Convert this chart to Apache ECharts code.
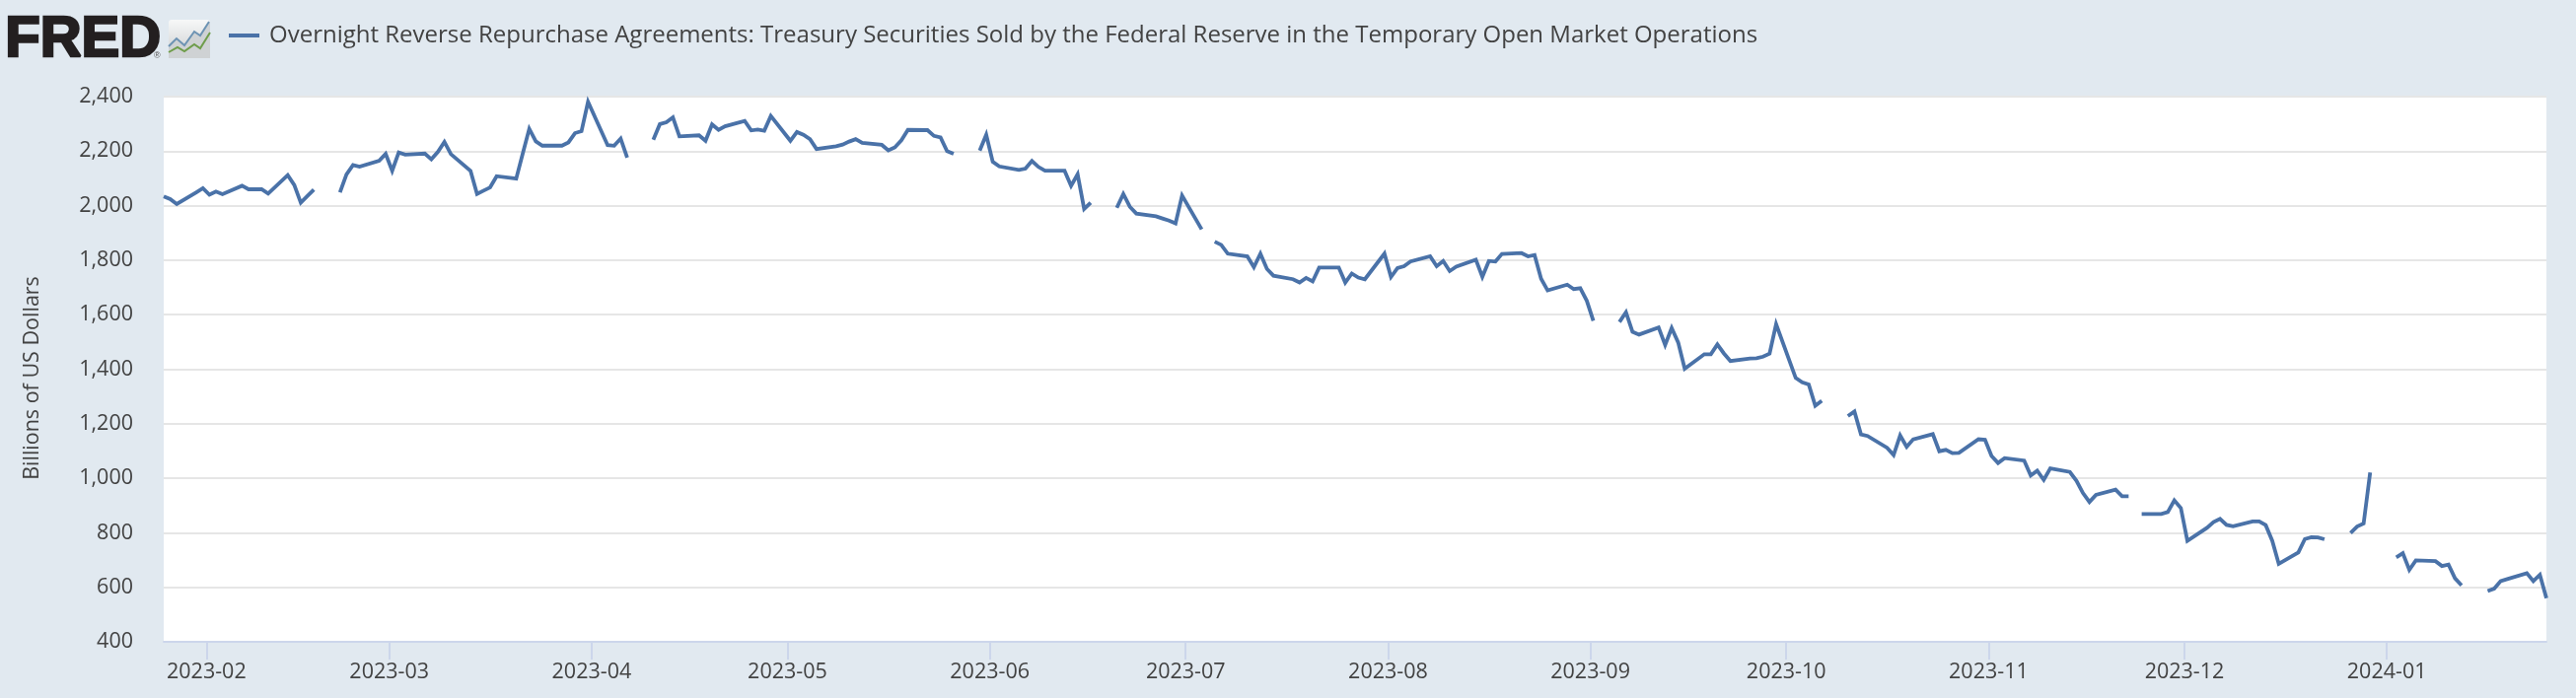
<!DOCTYPE html>
<html>
<head>
<meta charset="utf-8">
<script src="https://cdn.jsdelivr.net/npm/echarts@6/dist/echarts.min.js"></script>
<style>html,body{margin:0;padding:0;background:#e1e9f0}#c{width:2612px;height:708px}</style>
</head>
<body>
<div id="c"></div>
<script>
const seriesName = 'Overnight Reverse Repurchase Agreements: Treasury Securities Sold by the Federal Reserve in the Temporary Open Market Operations';
const yAxisName = 'Billions of US Dollars';
const firstDay = '2023-01-25';
const lastDay = '2024-01-25';
const tickMonths = ['2023-02','2023-03','2023-04','2023-05','2023-06','2023-07','2023-08','2023-09','2023-10','2023-11','2023-12','2024-01'];

// Every weekday, month by month; null = market holiday (no operation)
const jan23 = [2034,2024,2006,2049,2064];
const feb23 = [2040,2052,2042,2073,2060,2060,2060,2044,2112,2076,2011,2035,2059,null,2049,2115,2149,2143,2165,2190];
const mar23 = [2128,2195,2187,2191,2170,2197,2234,2189,2128,2043,2055,2067,2108,2099,2191,2282,2236,2220,2220,2232,2266,2273,2381];
const apr23 = [2222,2220,2246,2176,null,2242,2299,2306,2324,2254,2258,2238,2298,2278,2291,2311,2276,2279,2275,2329];
const may23 = [2238,2270,2260,2244,2208,2218,2224,2235,2244,2230,2223,2203,2214,2240,2278,2277,2256,2250,2200,2190,null,2202,2260];
const jun23 = [2161,2144,2131,2136,2164,2142,2128,2128,2073,2115,1988,2011,null,1992,2043,1996,1971,1961,1953,1945,1935,2037];
const jul23 = [1913,null,1868,1856,1824,1814,1774,1824,1768,1743,1730,1718,1735,1722,1773,1773,1718,1751,1736,1730,1824];
const aug23 = [1738,1771,1778,1795,1814,1778,1797,1760,1776,1802,1739,1797,1795,1823,1826,1814,1819,1732,1689,1710,1694,1697,1651];
const sep23 = [1578,null,1573,1609,1537,1527,1553,1489,1551,1498,1402,1455,1455,1491,1458,1430,1439,1440,1446,1457,1565];
const oct23 = [1368,1352,1344,1266,1284,null,1228,1245,1161,1155,1112,1085,1157,1115,1143,1162,1099,1104,1092,1093,1143,1141];
const nov23 = [1082,1056,1074,1065,1010,1028,994,1036,1023,991,946,913,939,958,934,934,null,869,869,876,919,891];
const dec23 = [770,818,839,851,829,824,842,842,828,771,686,728,777,784,783,776,null,799,823,834,1021];
const jan24 = [null,710,725,664,699,696,678,683,633,607,null,586,595,623,630,652,623,646,560];

const values = [].concat(jan23,feb23,mar23,apr23,may23,jun23,jul23,aug23,sep23,oct23,nov23,dec23,jan24);

const DAY = 86400000;
const weekdays = [];
for (let t = Date.parse(firstDay); t <= Date.parse(lastDay); t += DAY) {
  const w = new Date(t).getUTCDay();
  if (w !== 0 && w !== 6) weekdays.push(t);
}
const points = weekdays.map((t, i) => [t, values[i] === undefined ? null : values[i]]);
// The reference draws its month ticks about half a day before the 1st
const TICK_SHIFT = DAY * 0.45;
const tickValues = tickMonths.map(m => Date.parse(m + '-01') - TICK_SHIFT);

const FONT = '"Open Sans", "Noto Sans", sans-serif';
const TEXT = '#424242';
const chart = echarts.init(document.getElementById('c'), null, {renderer: 'canvas', width: 2612, height: 708});
chart.setOption({
  animation: false,
  backgroundColor: '#e1e9f0',
  grid: {left: 166, right: 30, top: 98, bottom: 57, show: true, backgroundColor: '#ffffff', borderWidth: 0},
  legend: {
    show: true, left: 232, top: 24, padding: 0, icon: 'rect', itemWidth: 31, itemHeight: 4,
    textStyle: {fontFamily: FONT, fontSize: 24, color: TEXT, padding: [0, 0, 0, 5]},
    data: [seriesName]
  },
  xAxis: {
    type: 'value',
    min: Date.parse(firstDay),
    max: Date.parse(lastDay),
    axisLine: {show: true, lineStyle: {color: '#ccd6eb', width: 2}},
    axisTick: {show: true, length: 18, customValues: tickValues, lineStyle: {color: '#ccd6eb', width: 2}},
    splitLine: {show: false},
    minorTick: {show: false},
    axisLabel: {
      customValues: tickValues,
      margin: 20,
      hideOverlap: false,
      fontFamily: FONT, fontSize: 21.5, color: TEXT,
      formatter: v => new Date(v + TICK_SHIFT).toISOString().slice(0, 7)
    }
  },
  yAxis: {
    type: 'value',
    min: 400, max: 2400, interval: 200,
    name: yAxisName,
    nameLocation: 'middle',
    nameGap: 122,
    nameTextStyle: {fontFamily: FONT, fontSize: 21.5, color: TEXT, padding: [0, 18, 0, 0]},
    axisLine: {show: false},
    axisTick: {show: false},
    splitLine: {show: true, lineStyle: {color: '#e6e6e6', width: 2}},
    axisLabel: {margin: 31, fontFamily: FONT, fontSize: 21.5, color: TEXT,
      formatter: v => v.toLocaleString('en-US')}
  },
  series: [{
    name: seriesName,
    type: 'line',
    data: points,
    showSymbol: false,
    symbol: 'none',
    connectNulls: false,
    sampling: false,
    clip: true,
    lineStyle: {color: '#4a72a8', width: 3.8, join: 'miter', cap: 'butt'},
    itemStyle: {color: '#4a72a8'},
    emphasis: {disabled: true}
  }],
  graphic: [
    {type: 'text', left: 4, top: 11, style: {text: 'FRED', fontFamily: '"Liberation Sans", Arial, sans-serif', fontWeight: 'bold', fontSize: 58, fill: '#231f20', stroke: '#231f20', lineWidth: 2.5}},
    {type: 'text', left: 156, top: 52, style: {text: '®', fontFamily: '"Liberation Sans", sans-serif', fontSize: 9, fill: '#555'}},
    {type: 'rect', shape: {x: 171, y: 20, width: 42, height: 39, r: 3},
      style: {fill: new echarts.graphic.LinearGradient(0, 0, 0, 1, [{offset: 0, color: '#f7f8f8'}, {offset: .55, color: '#dfe1e2'}, {offset: 1, color: '#cfd1d2'}])}},
    {type: 'polygon', shape: {points: [[171,47],[179,39],[187,46],[197,32],[203,36],[213,22],[213,59],[171,59]]}, style: {fill: '#cfd2d4'}},
    {type: 'polyline', shape: {points: [[171,47],[179,39],[187,46],[197,32],[203,36],[212,22]]}, style: {stroke: '#6d93b3', lineWidth: 2, fill: null}},
    {type: 'polyline', shape: {points: [[171,53],[180,48],[187,52],[197,45],[203,49],[213,33]]}, style: {stroke: '#6f9d4b', lineWidth: 2, fill: null}}
  ]
});
</script>
</body>
</html>
